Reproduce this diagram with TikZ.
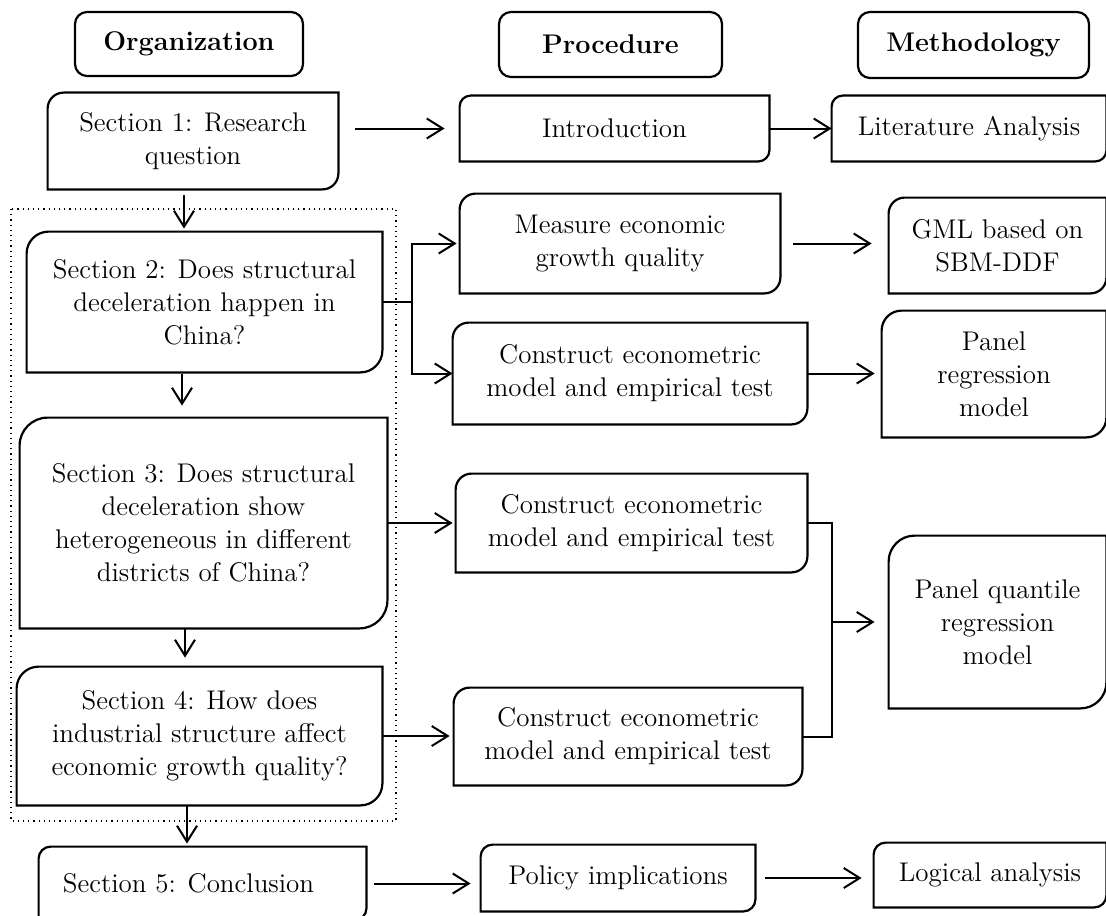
\documentclass[tikz,border=0pt]{standalone}
\usetikzlibrary{arrows.meta,calc}

\tikzset{
  box/.style={inner sep=0pt,align=center,font=\fontsize{13.5}{16.5}\selectfont},
  head/.style={box,draw,line width=1.1pt,rounded corners=6pt,font=\fontsize{13.5}{16.5}\selectfont\bfseries},
  dims/.style 2 args={minimum width=#1,minimum height=#2},
  arr/.style={line width=1pt,-{Straight Barb[length=8pt,width=10pt,line width=1pt]}},
  link/.style={line width=1pt},
}
\newcommand{\cutbox}[2]{\draw[line width=1.1pt] (#1.south west) [rounded corners=#2] -- (#1.north west) [sharp corners] -- (#1.north east) [rounded corners=#2] -- (#1.south east) [sharp corners] -- cycle;}

\begin{document}
\begin{tikzpicture}[x=0.5pt,y=-0.5pt]
\useasboundingbox (0,0) rectangle (1106,915);

\draw[dotted,line width=0.6pt] (11,209) rectangle (396,821);

\node[head,dims={114pt}{32pt}] (horg) at (189,44) {Organization};
\node[head,dims={111.5pt}{32.5pt}] (hproc) at (610.5,44.5) {Procedure};
\node[head,dims={115.5pt}{33pt}] (hmeth) at (973.5,45) {Methodology};

\node[box,dims={145pt}{48pt}] (s1) at (193,141) {Section 1: Research\\question};
\node[box,dims={177.5pt}{70pt}] (s2) at (204.5,302) {Section 2: Does structural\\deceleration happen in\\China?};
\node[box,dims={183.5pt}{105pt}] (s3) at (203.5,523) {Section 3: Does structural\\deceleration show\\heterogeneous in different\\districts of China?};
\node[box,dims={182.5pt}{69pt}] (s4) at (199.5,736) {Section 4: How does\\industrial structure affect\\economic growth quality?};
\node[box,dims={163.5pt}{36.5pt}] (s5) at (202.5,883.5) {Section 5: Conclusion\hspace*{14pt}};

\node[box,dims={154.5pt}{32.5pt}] (intro) at (614.5,128.5) {Introduction};
\node[box,dims={160pt}{49.5pt}] (measure) at (620,243.5) {Measure economic\\growth quality};
\node[box,dims={177pt}{50.5pt}] (cons1) at (630,373.5) {Construct econometric\\model and empirical test};
\node[box,dims={175.5pt}{49pt}] (cons2) at (631.5,523) {Construct econometric\\model and empirical test};
\node[box,dims={174pt}{48.5pt}] (cons3) at (628,736.5) {Construct econometric\\model and empirical test};
\node[box,dims={137pt}{33pt}] (policy) at (618,878) {Policy implications};

\node[box,dims={137pt}{32.5pt}] (lit) at (969,128.5) {Literature Analysis};
\node[box,dims={108.5pt}{47.5pt}] (gml) at (997.5,245.5) {GML based on\\SBM-DDF};
\node[box,dims={112pt}{63pt}] (panreg) at (994,374) {Panel\\regression\\model};
\node[box,dims={108.5pt}{86pt}] (panq) at (997.5,622) {Panel quantile\\regression\\model};
\node[box,dims={116pt}{32pt}] (logic) at (990,875) {Logical analysis};

\foreach \n/\r in {s1/8pt,s2/11pt,s3/14pt,s4/11pt,s5/6pt,intro/5.5pt,measure/8pt,cons1/8pt,cons2/8pt,cons3/8pt,policy/6pt,lit/5.5pt,gml/8pt,panreg/10pt,panq/13pt,logic/6pt}
  {\cutbox{\n}{\r}}

\draw[arr,shorten <=3pt,shorten >=1.5pt] ([xshift=-4.5pt]s1.south) -- ([xshift=-4.5pt]s1.south |- s2.north);
\draw[arr,shorten <=1pt,shorten >=6pt] ([xshift=-11.25pt]s2.south) -- ([xshift=-11.25pt]s2.south |- s3.north);
\draw[arr,shorten >=4.5pt] ([xshift=-9.25pt]s3.south) -- ([xshift=-9.25pt]s3.south |- s4.north);
\draw[arr,shorten >=1.5pt] ([xshift=-6.25pt]s4.south) -- ([xshift=-6.25pt]s4.south |- s5.north);

\draw[arr,shorten <=8.5pt,shorten >=7.5pt] (s1.east |- intro.west) -- (intro.west);
\draw[arr] (intro.east) -- (lit.west);

\draw[link] (s2.east) -- ++(30,0) coordinate (fork);
\draw[arr,shorten >=1.5pt] (fork) |- (measure.west);
\draw[arr] (fork) |- (cons1.west);
\draw[arr,shorten <=6.5pt,shorten >=8.5pt] (measure.east) -- (measure.east -| gml.west);
\draw[arr,shorten >=3.5pt] (cons1.east) -- (cons1.east -| panreg.west);

\draw[arr,shorten >=1.5pt] (s3.east) -- (s3.east -| cons2.west);
\draw[arr,shorten >=2pt] (s4.east) -- (s4.east -| cons3.west);
\draw[link] (cons2.east) -- ++(25,0) coordinate (join) |- (cons3.east);
\draw[arr,shorten >=7pt] (join |- panq.west) -- (panq.west);

\draw[arr,shorten <=4pt,shorten >=5pt] (s5.east) -- (s5.east -| policy.west);
\draw[arr,shorten <=5pt,shorten >=6pt] (policy.east) -- (policy.east -| logic.west);
\end{tikzpicture}
\end{document}
